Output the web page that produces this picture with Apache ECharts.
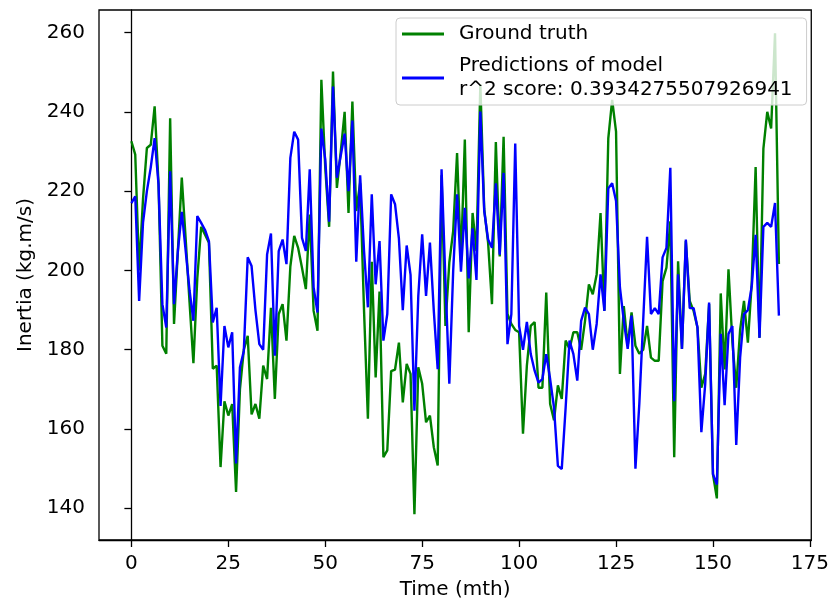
<!DOCTYPE html>
<html>
<head>
<meta charset="utf-8">
<script src="https://cdn.jsdelivr.net/npm/echarts@6/dist/echarts.min.js"></script>
<style>
html,body{margin:0;padding:0;background:#fff;}
#chart{width:832px;height:609px;}
</style>
</head>
<body>
<div id="chart"></div>
<script>
const truth = [232.6,229.2,200,218,230.9,231.7,241.4,222,181,179,238.4,186.5,205,223.4,208,192,176.6,198,211,209,207,175.2,176,150.4,167,163.4,166.3,144.1,170,180,183.5,163.7,166.3,162.6,176,172.6,190.6,167.6,189,191.5,182.3,201,208.7,205.7,200.7,195.3,214.1,189.8,184.8,248.1,226,211,250.2,220.8,230,240,214.5,242.6,215,222,190,162.6,202.2,173,194.7,152.9,154.6,174.6,175,181.8,166.7,176.4,173.9,138.5,175.6,171.4,161.7,163.4,155.4,150.8,224,186,202,210,229.6,202.2,233,184.4,214.5,204.9,247,215.5,207,191.5,232.4,203.5,233.7,189,186.5,185,184.4,158.8,176,186,187,170.4,170.4,194.4,166.3,162.2,171,167.6,182.3,180.2,184.4,184.4,180,187.3,196.5,194,199,214.5,189.8,233.3,243,235,173.9,191,181,189.4,181,179,180,186,178,177.2,177.2,197.3,200.7,212.4,152.9,202.3,180.2,207.4,192.3,189.8,185.6,170.4,173.9,191.5,148.6,142.5,194.2,175,200.3,182,170.4,185,192.3,181.8,197,226.1,183,230.7,240,235.8,259.8,201.6];
const pred = [217,218.7,192.3,212,220,226,233.4,221.7,191.5,185.6,225,191.5,205,214.8,205,195,187.3,213.7,212,210.2,207.4,186.9,190.6,165.8,186,180.6,184.4,151.3,175.6,179.7,203.3,201.1,190,181.4,180,204,209.3,178.5,204.9,207.8,201.6,228.4,235,233,208.2,204.9,225.5,195.7,189.4,235.8,228,212.3,246.4,223.4,229,234.5,220,237.8,202.2,224,205,190.7,219.2,196.5,207.4,182.3,189,219.2,216.7,208,190,206.3,198.9,164.6,193.6,209.1,193.6,207,189.8,175.1,225.5,197.4,171.4,200,219.2,199.7,215.8,198,210.6,197.6,240.1,215,207.8,205.7,222,204,224.6,181.4,189,232,186,180,187,178.9,174.7,171.7,172.6,178.9,172.6,165.4,150.7,149.9,165.4,182.3,178.9,172.2,187.3,190.6,189,180,186.5,199,189.8,220.7,222,217.5,195.7,187.3,180.2,188.6,150,166.3,187.3,208.5,189,190.5,189,203.3,205.7,225.9,167,199,180.2,207.8,190.5,190.5,185.6,159.2,171.4,191.9,148.6,146,184,166,184,186,156,178,189,190,196,209,183,211,212,211,217,188.6];
const xTicks = [0,25,50,75,100,125,150,175];
const yTicks = [140,160,180,200,220,240,260];
const truthName = 'Ground truth';
const predName = 'Predictions of model\nr^2 score: 0.3934275507926941';

const FONT = 'DejaVu Sans';
const FS = 20;
const chart = echarts.init(document.getElementById('chart'), null, {renderer:'canvas'});
const toPairs = arr => arr.map((v,i)=>[i,v]);
chart.setOption({
  animation:false,
  backgroundColor:'#fff',
  textStyle:{fontFamily:FONT},
  grid:{left:99,right:15,top:10,bottom:69,show:true,borderColor:'#000',borderWidth:1.3,backgroundColor:'transparent'},
  legend:{
    left:396, top:18, orient:'vertical',
    padding:[4,14,3,6], itemGap:8,
    itemWidth:42, itemHeight:3, icon:'rect',
    backgroundColor:'rgba(255,255,255,0.8)', borderColor:'#cccccc', borderWidth:1, borderRadius:4,
    textStyle:{fontFamily:FONT,fontSize:FS,color:'#000',lineHeight:24,padding:[0,0,0,10]},
    data:[truthName,predName]
  },
  xAxis:{
    type:'value', min:-8.35, max:175.35,
    name:'Time (mth)', nameLocation:'middle', nameGap:40,
    nameTextStyle:{fontFamily:FONT,fontSize:FS,color:'#000'},
    axisLine:{show:true,lineStyle:{color:'#000',width:1.3}},
    axisTick:{show:true,length:7,lineStyle:{color:'#000',width:1.3},customValues:xTicks},
    axisLabel:{fontFamily:FONT,fontSize:FS,color:'#000',margin:14,customValues:xTicks},
    splitLine:{show:false}
  },
  yAxis:{
    type:'value', min:132, max:265.7,
    name:'Inertia (kg.m/s)', nameLocation:'middle', nameGap:62, nameRotate:90,
    nameTextStyle:{fontFamily:FONT,fontSize:FS,color:'#000'},
    axisLine:{show:true,lineStyle:{color:'#000',width:1.3}},
    axisTick:{show:true,length:7,lineStyle:{color:'#000',width:1.3},customValues:yTicks},
    axisLabel:{fontFamily:FONT,fontSize:FS,color:'#000',margin:14,customValues:yTicks},
    splitLine:{show:false}
  },
  series:[
    {name:truthName,type:'line',data:toPairs(truth),showSymbol:false,symbol:'none',
     lineStyle:{color:'#008000',width:2.4},itemStyle:{color:'#008000'}},
    {name:predName,type:'line',data:toPairs(pred),showSymbol:false,symbol:'none',
     lineStyle:{color:'#0000ff',width:2.4},itemStyle:{color:'#0000ff'}}
  ]
});
</script>
</body>
</html>
